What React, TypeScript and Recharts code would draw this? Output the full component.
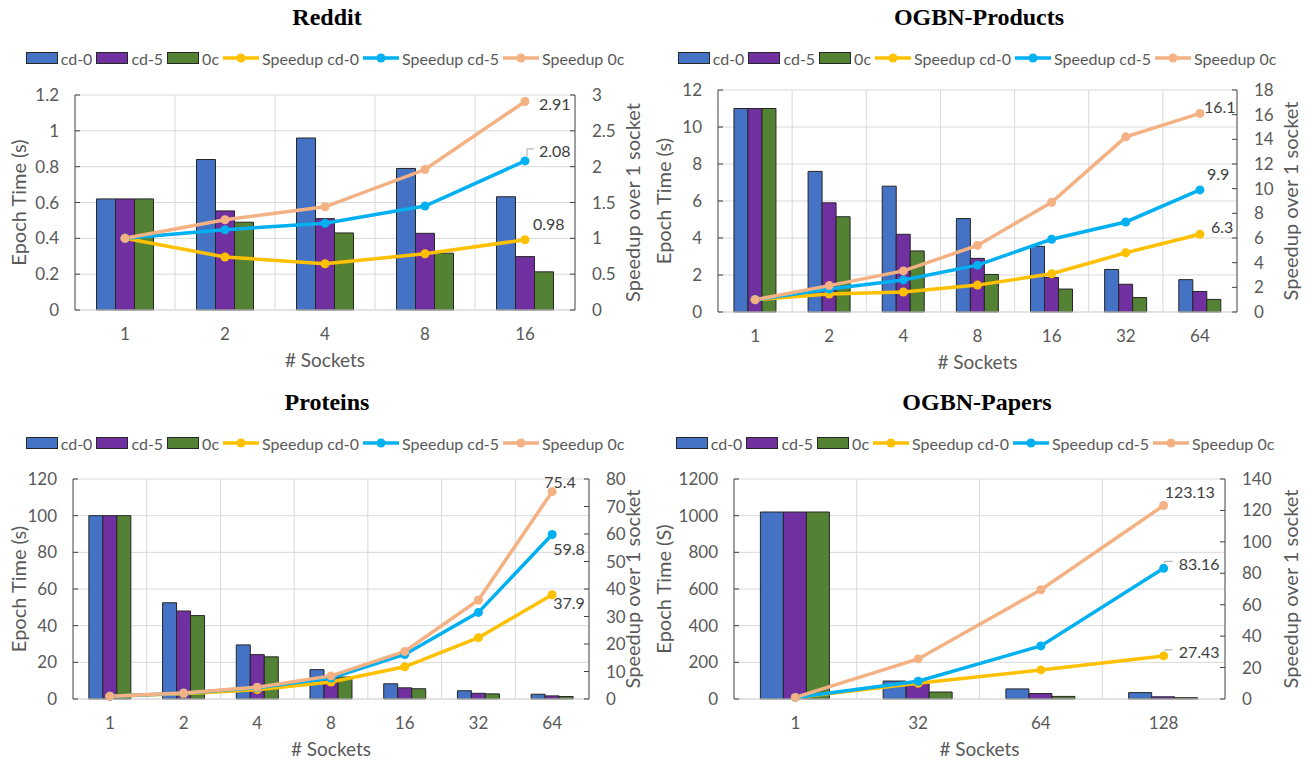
import React from "react";
import {
  Bar,
  CartesianGrid,
  ComposedChart,
  LabelList,
  Line,
  XAxis,
  YAxis,
} from "recharts";

const COLORS = {
  cd0: "#4472C4",
  cd5: "#7030A0",
  oc: "#548235",
  spCd0: "#FFC000",
  spCd5: "#00B0F0",
  spOc: "#F4B183",
};
const TEXT = "#595959";
const GRID = "#D9D9D9";
const AXIS = "#404040";
const FONT = "Lato, 'Noto Sans', sans-serif";

// Reddit
const REDDIT_SOCKETS = ["1", "2", "4", "8", "16"];
const REDDIT_CD0 = [0.62, 0.84, 0.96, 0.79, 0.632];
const REDDIT_CD5 = [0.62, 0.553, 0.51, 0.428, 0.298];
const REDDIT_OC = [0.62, 0.49, 0.43, 0.317, 0.213];
const REDDIT_SP_CD0 = [1, 0.74, 0.645, 0.785, 0.98];
const REDDIT_SP_CD5 = [1, 1.12, 1.21, 1.45, 2.08];
const REDDIT_SP_OC = [1, 1.26, 1.44, 1.96, 2.91];
const REDDIT_LEFT_TICKS = [0, 0.2, 0.4, 0.6, 0.8, 1, 1.2];
const REDDIT_RIGHT_TICKS = [0, 0.5, 1, 1.5, 2, 2.5, 3];

// OGBN-Products
const PRODUCTS_SOCKETS = ["1", "2", "4", "8", "16", "32", "64"];
const PRODUCTS_CD0 = [11, 7.6, 6.8, 5.05, 3.55, 2.3, 1.75];
const PRODUCTS_CD5 = [11, 5.9, 4.2, 2.9, 1.87, 1.5, 1.11];
const PRODUCTS_OC = [11, 5.15, 3.3, 2.03, 1.24, 0.78, 0.68];
const PRODUCTS_SP_CD0 = [1, 1.45, 1.62, 2.18, 3.1, 4.8, 6.3];
const PRODUCTS_SP_CD5 = [1, 1.86, 2.6, 3.8, 5.9, 7.3, 9.9];
const PRODUCTS_SP_OC = [1, 2.14, 3.33, 5.4, 8.9, 14.2, 16.1];
const PRODUCTS_LEFT_TICKS = [0, 2, 4, 6, 8, 10, 12];
const PRODUCTS_RIGHT_TICKS = [0, 2, 4, 6, 8, 10, 12, 14, 16, 18];

// Proteins
const PROTEINS_SOCKETS = ["1", "2", "4", "8", "16", "32", "64"];
const PROTEINS_CD0 = [100, 52.5, 29.5, 16, 8.3, 4.5, 2.6];
const PROTEINS_CD5 = [100, 48, 24.2, 12, 6.1, 3.1, 1.7];
const PROTEINS_OC = [100, 45.5, 23, 12, 5.6, 2.8, 1.35];
const PROTEINS_SP_CD0 = [1, 1.9, 3.4, 6.2, 11.7, 22.3, 37.9];
const PROTEINS_SP_CD5 = [1, 2.1, 4.1, 7.6, 16.2, 31.5, 59.8];
const PROTEINS_SP_OC = [1, 2.2, 4.3, 8.4, 17.3, 36, 75.4];
const PROTEINS_LEFT_TICKS = [0, 20, 40, 60, 80, 100, 120];
const PROTEINS_RIGHT_TICKS = [0, 10, 20, 30, 40, 50, 60, 70, 80];

// OGBN-Papers
const PAPERS_SOCKETS = ["1", "32", "64", "128"];
const PAPERS_CD0 = [1020, 98, 55, 35];
const PAPERS_CD5 = [1020, 92, 30, 12];
const PAPERS_OC = [1020, 38, 14, 7];
const PAPERS_SP_CD0 = [1, 10, 18.5, 27.43];
const PAPERS_SP_CD5 = [1, 11.3, 33.8, 83.16];
const PAPERS_SP_OC = [1, 25.5, 69.5, 123.13];
const PAPERS_LEFT_TICKS = [0, 200, 400, 600, 800, 1000, 1200];
const PAPERS_RIGHT_TICKS = [0, 20, 40, 60, 80, 100, 120, 140];

const LEGEND = [
  { key: "cd0", name: "cd-0", kind: "bar" },
  { key: "cd5", name: "cd-5", kind: "bar" },
  { key: "oc", name: "0c", kind: "bar" },
  { key: "spCd0", name: "Speedup cd-0", kind: "line" },
  { key: "spCd5", name: "Speedup cd-5", kind: "line" },
  { key: "spOc", name: "Speedup 0c", kind: "line" },
];

type EndLabel = {
  dx: number;
  dy: number;
  leader?: [number, number, number, number];
};

function Legend() {
  return (
    <div
      style={{
        display: "flex",
        alignItems: "center",
        whiteSpace: "nowrap",
        fontFamily: FONT,
        fontSize: 16,
        color: TEXT,
      }}
    >
      {LEGEND.map((item) => (
        <div key={item.key} style={{ display: "flex", alignItems: "center", marginRight: 4 }}>
          {item.kind === "bar" ? (
            <span
              style={{
                display: "inline-block",
                width: 30,
                height: 10,
                background: COLORS[item.key],
                border: "1px solid #262626",
                marginRight: 3,
              }}
            />
          ) : (
            <svg width={36} height={12} style={{ marginRight: 3 }}>
              <line x1={0} y1={6} x2={36} y2={6} stroke={COLORS[item.key]} strokeWidth={3.5} />
              <circle cx={18} cy={6} r={4.5} fill={COLORS[item.key]} />
            </svg>
          )}
          <span>{item.name}</span>
        </div>
      ))}
    </div>
  );
}

function endLabel(cfg: EndLabel, lastIndex: number) {
  return (props: any) => {
    const { x, y, index, value } = props;
    if (index !== lastIndex) return null;
    return (
      <g>
        {cfg.leader && (
          <path
            d={`M${x + cfg.leader[0]},${y + cfg.leader[1]}V${y + cfg.leader[2]}H${x + cfg.leader[3]}`}
            stroke="#A6A6A6"
            strokeWidth={1}
            fill="none"
          />
        )}
        <text
          x={x + cfg.dx}
          y={y + cfg.dy}
          dominantBaseline="central"
          fontSize={16}
          fontFamily={FONT}
          fill="#404040"
        >
          {value}
        </text>
      </g>
    );
  };
}

function Panel(props: {
  title: string;
  left: number;
  top: number;
  width: number;
  height: number;
  margin: { top: number; right: number; bottom: number; left: number };
  sockets: string[];
  cd0: number[];
  cd5: number[];
  oc: number[];
  spCd0: number[];
  spCd5: number[];
  spOc: number[];
  leftTicks: number[];
  rightTicks: number[];
  yLabel: string;
  leftTitleGap: number;
  rightTitleGap: number;
  titleX: number;
  labels: { spCd0: EndLabel; spCd5: EndLabel; spOc: EndLabel };
}) {
  const p = props;
  const data = p.sockets.map((s, i) => ({
    sockets: s,
    cd0: p.cd0[i],
    cd5: p.cd5[i],
    oc: p.oc[i],
    spCd0: p.spCd0[i],
    spCd5: p.spCd5[i],
    spOc: p.spOc[i],
  }));
  const last = data.length - 1;
  const n = data.length;
  const tick = { fill: TEXT, fontSize: 17, fontFamily: FONT };

  return (
    <div
      style={{
        position: "absolute",
        left: p.left,
        top: p.top,
        width: p.width,
        height: p.height,
      }}
    >
      <ComposedChart
        width={p.width}
        height={p.height}
        data={data}
        margin={p.margin}
        barCategoryGap="21.5%"
        barGap={0}
      >
        <CartesianGrid
          yAxisId="left"
          stroke={GRID}
          verticalCoordinatesGenerator={({ offset }: any) =>
            Array.from({ length: n - 1 }, (_, i) => offset.left + ((i + 1) * offset.width) / n)
          }
        />
        <XAxis
          dataKey="sockets"
          stroke={GRID}
          tickLine={false}
          tick={tick}
          tickMargin={12}
          height={30}
          interval={0}
          label={{
            content: ({ viewBox }: any) => (
              <text
                x={viewBox.x + viewBox.width / 2}
                y={viewBox.y + 57}
                textAnchor="middle"
                fontSize={19}
                fontFamily={FONT}
                fill={TEXT}
              >
                # Sockets
              </text>
            ),
          }}
        />
        <YAxis
          yAxisId="left"
          orientation="left"
          domain={[0, p.leftTicks[p.leftTicks.length - 1]]}
          ticks={p.leftTicks}
          interval={0}
          width={40}
          stroke={AXIS}
          tick={tick}
          tickSize={-5}
          tickMargin={21}
          label={{
            content: ({ viewBox }: any) => {
              const cx = viewBox.x + viewBox.width - p.leftTitleGap;
              const cy = viewBox.y + viewBox.height / 2;
              return (
                <text
                  x={cx}
                  y={cy}
                  textAnchor="middle"
                  dominantBaseline="central"
                  transform={`rotate(-90 ${cx} ${cy})`}
                  fontSize={20}
                  fontFamily={FONT}
                  fill={TEXT}
                >
                  {p.yLabel}
                </text>
              );
            },
          }}
        />
        <YAxis
          yAxisId="right"
          orientation="right"
          domain={[0, p.rightTicks[p.rightTicks.length - 1]]}
          ticks={p.rightTicks}
          interval={0}
          width={40}
          stroke={AXIS}
          tick={tick}
          tickSize={-5}
          tickMargin={22}
          label={{
            content: ({ viewBox }: any) => {
              const cx = viewBox.x + p.rightTitleGap;
              const cy = viewBox.y + viewBox.height / 2;
              return (
                <text
                  x={cx}
                  y={cy}
                  textAnchor="middle"
                  dominantBaseline="central"
                  transform={`rotate(-90 ${cx} ${cy})`}
                  fontSize={20}
                  fontFamily={FONT}
                  fill={TEXT}
                >
                  Speedup over 1 socket
                </text>
              );
            },
          }}
        />
        {(["cd0", "cd5", "oc"] as const).map((k) => (
          <Bar
            key={k}
            yAxisId="left"
            dataKey={k}
            fill={COLORS[k]}
            stroke="#262626"
            strokeWidth={1}
            isAnimationActive={false}
          />
        ))}
        {(["spCd0", "spCd5", "spOc"] as const).map((k) => (
          <Line
            key={k}
            yAxisId="right"
            type="linear"
            dataKey={k}
            stroke={COLORS[k]}
            strokeWidth={3.5}
            dot={{ r: 4.5, fill: COLORS[k], stroke: COLORS[k], strokeWidth: 0 }}
            activeDot={false}
            isAnimationActive={false}
          >
            <LabelList dataKey={k} content={endLabel(p.labels[k], last)} />
          </Line>
        ))}
      </ComposedChart>
      <div
        style={{
          position: "absolute",
          left: p.titleX - 200,
          width: 400,
          top: 1,
          textAlign: "center",
          fontFamily: "'Liberation Serif', 'Times New Roman', serif",
          fontWeight: "bold",
          fontSize: 24,
          lineHeight: "32px",
          color: "#000",
        }}
      >
        {p.title}
      </div>
      <div
        style={{
          position: "absolute",
          left: p.titleX - 320,
          width: 640,
          top: 47,
          height: 22,
          display: "flex",
          justifyContent: "center",
        }}
      >
        <Legend />
      </div>
    </div>
  );
}

export default function App() {
  return (
    <div
      style={{
        position: "absolute",
        left: 0,
        top: 0,
        width: 1307,
        height: 765,
        background: "#fff",
        overflow: "hidden",
      }}
    >
      <Panel
        title="Reddit"
        left={0}
        top={0}
        width={645}
        height={380}
        margin={{ top: 95, right: 30, bottom: 40, left: 35 }}
        sockets={REDDIT_SOCKETS}
        cd0={REDDIT_CD0}
        cd5={REDDIT_CD5}
        oc={REDDIT_OC}
        spCd0={REDDIT_SP_CD0}
        spCd5={REDDIT_SP_CD5}
        spOc={REDDIT_SP_OC}
        leftTicks={REDDIT_LEFT_TICKS}
        rightTicks={REDDIT_RIGHT_TICKS}
        yLabel="Epoch Time (s)"
        leftTitleGap={57}
        rightTitleGap={57}
        titleX={327}
        labels={{
          spOc: { dx: 14, dy: 2 },
          spCd5: { dx: 14, dy: -10, leader: [2, -5, -12, 9] },
          spCd0: { dx: 8, dy: -16 },
        }}
      />
      <Panel
        title="OGBN-Products"
        left={645}
        top={0}
        width={662}
        height={380}
        margin={{ top: 90, right: 30, bottom: 38, left: 33 }}
        sockets={PRODUCTS_SOCKETS}
        cd0={PRODUCTS_CD0}
        cd5={PRODUCTS_CD5}
        oc={PRODUCTS_OC}
        spCd0={PRODUCTS_SP_CD0}
        spCd5={PRODUCTS_SP_CD5}
        spOc={PRODUCTS_SP_OC}
        leftTicks={PRODUCTS_LEFT_TICKS}
        rightTicks={PRODUCTS_RIGHT_TICKS}
        yLabel="Epoch Time (s)"
        leftTitleGap={55}
        rightTitleGap={53}
        titleX={334}
        labels={{
          spOc: { dx: 4, dy: -7 },
          spCd5: { dx: 7, dy: -16 },
          spCd0: { dx: 11, dy: -8 },
        }}
      />
      <Panel
        title="Proteins"
        left={0}
        top={385}
        width={645}
        height={380}
        margin={{ top: 94, right: 16, bottom: 36, left: 33 }}
        sockets={PROTEINS_SOCKETS}
        cd0={PROTEINS_CD0}
        cd5={PROTEINS_CD5}
        oc={PROTEINS_OC}
        spCd0={PROTEINS_SP_CD0}
        spCd5={PROTEINS_SP_CD5}
        spOc={PROTEINS_SP_OC}
        leftTicks={PROTEINS_LEFT_TICKS}
        rightTicks={PROTEINS_RIGHT_TICKS}
        yLabel="Epoch Time (s)"
        leftTitleGap={55}
        rightTitleGap={43}
        titleX={327}
        labels={{
          spOc: { dx: -8, dy: -10 },
          spCd5: { dx: 1, dy: 14 },
          spCd0: { dx: 1, dy: 8 },
        }}
      />
      <Panel
        title="OGBN-Papers"
        left={645}
        top={385}
        width={662}
        height={380}
        margin={{ top: 94, right: 42, bottom: 36, left: 49 }}
        sockets={PAPERS_SOCKETS}
        cd0={PAPERS_CD0}
        cd5={PAPERS_CD5}
        oc={PAPERS_OC}
        spCd0={PAPERS_SP_CD0}
        spCd5={PAPERS_SP_CD5}
        spOc={PAPERS_SP_OC}
        leftTicks={PAPERS_LEFT_TICKS}
        rightTicks={PAPERS_RIGHT_TICKS}
        yLabel="Epoch Time (S)"
        leftTitleGap={71}
        rightTitleGap={65}
        titleX={332}
        labels={{
          spOc: { dx: 1, dy: -14 },
          spCd5: { dx: 15, dy: -5, leader: [1, -5, -7, 9] },
          spCd0: { dx: 15, dy: -4, leader: [1, -5, -6, 9] },
        }}
      />
    </div>
  );
}
